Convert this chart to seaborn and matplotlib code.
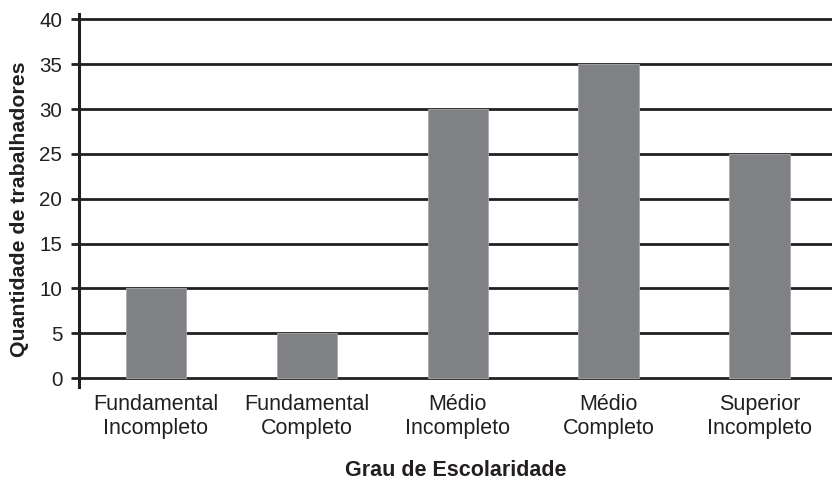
import matplotlib
matplotlib.use("Agg")
import matplotlib.pyplot as plt
import pandas as pd
import seaborn as sns

# data
categorias = ["Fundamental\nIncompleto", "Fundamental\nCompleto", "Médio\nIncompleto",
              "Médio\nCompleto", "Superior\nIncompleto"]
trabalhadores = [10, 5, 30, 35, 25]
y_ticks = [0, 5, 10, 15, 20, 25, 30, 35, 40]

df = pd.DataFrame({"grau": categorias, "qtd": trabalhadores})

sns.set_style("white")
plt.rcParams["font.family"] = ["Liberation Sans", "DejaVu Sans"]

fig = plt.figure(figsize=(8.32, 4.82), dpi=100)
ax = fig.add_axes([0.095, 0.197, 0.905, 0.774])

# horizontal grid lines drawn below the bars
for v in y_ticks:
    ax.axhline(v, color="#231f20", linewidth=2.0, zorder=1)

sns.barplot(data=df, x="grau", y="qtd", color="#808184", saturation=1,
            width=0.4, ax=ax, zorder=2, edgecolor="#a9aaad", linewidth=0.6)

ax.set_xlim(-0.51, 4.48)
ax.set_ylim(-1, 40.6)
ax.set_yticks(y_ticks)
ax.tick_params(axis="y", labelsize=14.8, length=6, width=2, color="#231f20",
               left=True, pad=6, labelcolor="#231f20")
ax.tick_params(axis="x", labelsize=15.5, length=0, pad=5, labelcolor="#231f20")

for s in ["top", "right", "bottom"]:
    ax.spines[s].set_visible(False)
ax.spines["left"].set_linewidth(2.2)
ax.spines["left"].set_color("#231f20")

ax.set_xlabel("Grau de Escolaridade", fontsize=15.5, fontweight="bold",
              color="#231f20", labelpad=15)
ax.set_ylabel("Quantidade de trabalhadores", fontsize=15.3, fontweight="bold",
              color="#231f20")
ax.yaxis.set_label_coords(-0.066, 0.476)
ax.grid(False)

fig.savefig("out.png", dpi=100)
